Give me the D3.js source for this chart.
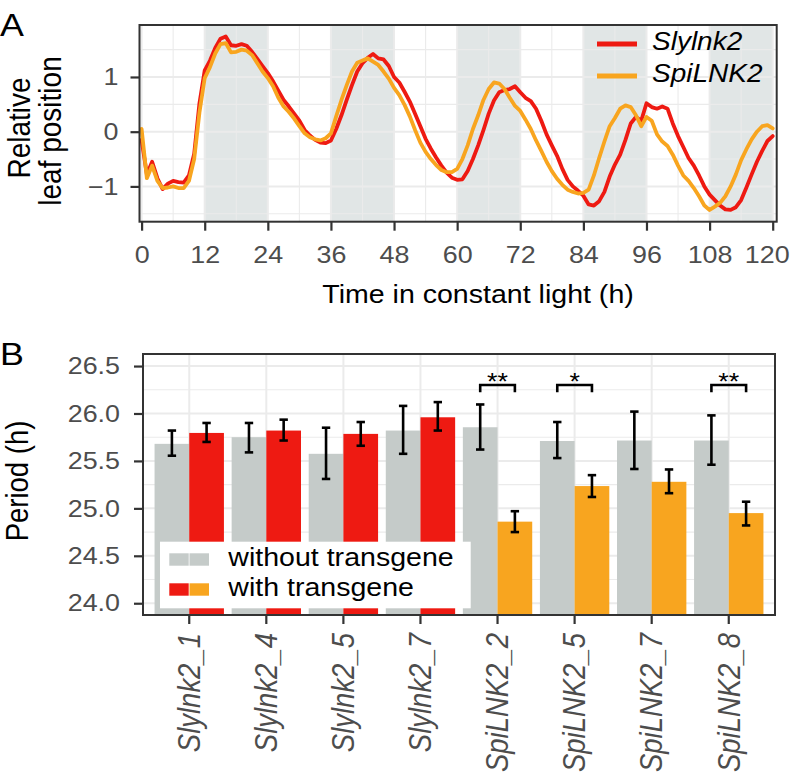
<!DOCTYPE html>
<html><head><meta charset="utf-8">
<script src="https://cdn.jsdelivr.net/npm/d3@7"></script>
<style>body{margin:0;background:#fff}</style>
</head><body>
<svg id="chart" width="793" height="777"></svg>
<script>
// ---------------- DATA ----------------
// Panel A: relative leaf position, hourly readings 0..120 h
const timeH = d3.range(0, 121, 1);
const slylnk2 = [
 -0.15,-0.78,-0.55,-0.85,-1.05,-0.95,-0.90,-0.92,-0.93,-0.80,
 -0.40, 0.52, 1.12, 1.30, 1.53, 1.70, 1.74, 1.58, 1.57, 1.60,
  1.57, 1.46, 1.33, 1.20, 1.07, 0.92, 0.75, 0.58, 0.46, 0.33,
  0.20, 0.03,-0.07,-0.15,-0.20,-0.21,-0.16, 0.05, 0.30, 0.58,
  0.85, 1.10, 1.25, 1.35, 1.42, 1.34, 1.32, 1.20, 1.00, 0.90,
  0.73, 0.55, 0.33, 0.10,-0.13,-0.31,-0.47,-0.62,-0.75,-0.84,
 -0.88,-0.87,-0.72,-0.50,-0.25, 0.03, 0.33, 0.57, 0.72, 0.76,
  0.78, 0.83, 0.72, 0.62, 0.56, 0.42, 0.20,-0.05,-0.25,-0.44,
 -0.68,-0.88,-1.00,-1.08,-1.17,-1.33,-1.35,-1.27,-1.10,-0.82,
 -0.60,-0.42,-0.15, 0.15, 0.27, 0.20, 0.52, 0.45, 0.42, 0.46,
  0.42, 0.15,-0.08,-0.28,-0.48,-0.62,-0.80,-1.00,-1.15,-1.25,
 -1.35,-1.42,-1.43,-1.38,-1.25,-1.02,-0.78,-0.55,-0.35,-0.17,
 -0.08];
const spilnk2 = [
  0.05,-0.85,-0.62,-0.90,-1.03,-1.02,-1.00,-1.03,-1.03,-0.90,
 -0.50, 0.35, 0.98, 1.18, 1.43, 1.60, 1.62, 1.45, 1.46, 1.50,
  1.48, 1.40, 1.25, 1.10, 0.98, 0.83, 0.62, 0.46, 0.36, 0.24,
  0.10,-0.03,-0.10,-0.14,-0.16,-0.12,-0.03, 0.28, 0.58, 0.85,
  1.10, 1.26, 1.30, 1.34, 1.28, 1.22, 1.10, 0.97, 0.80, 0.67,
  0.49, 0.28, 0.03,-0.20,-0.37,-0.50,-0.61,-0.70,-0.74,-0.74,
 -0.68,-0.50,-0.25, 0.05, 0.30, 0.58, 0.78, 0.90, 0.88, 0.78,
  0.62, 0.47, 0.38, 0.22, 0.05,-0.16,-0.35,-0.55,-0.72,-0.86,
 -0.97,-1.06,-1.10,-1.13,-1.12,-1.06,-0.80,-0.48,-0.18, 0.10,
  0.25, 0.42, 0.48, 0.45, 0.30, 0.10, 0.27, 0.20,-0.05,-0.18,
 -0.26,-0.42,-0.62,-0.80,-0.90,-1.03,-1.18,-1.35,-1.43,-1.37,
 -1.30,-1.18,-1.00,-0.78,-0.52,-0.32,-0.14, 0.00, 0.10, 0.12,
  0.06];
const lineSeries = ["Slylnk2", "SpiLNK2"];
const darkStart = [12, 36, 60, 84, 108];
const darkLength = 12;
const xTicksA = [0, 12, 24, 36, 48, 60, 72, 84, 96, 108, 120];
const yTicksA = [-1, 0, 1];

// Panel B: period (h)
const categories = ["Slylnk2_1","Slylnk2_4","Slylnk2_5","Slylnk2_7","SpiLNK2_2","SpiLNK2_5","SpiLNK2_7","SpiLNK2_8"];
const withoutMean = [25.68, 25.75, 25.575, 25.82, 25.855, 25.71, 25.715, 25.715];
const withoutLo   = [25.555, 25.59, 25.31, 25.575, 25.62, 25.53, 25.415, 25.46];
const withoutHi   = [25.82, 25.90, 25.85, 26.08, 26.095, 25.91, 26.02, 25.98];
const withMean    = [25.795, 25.82, 25.785, 25.96, 24.86, 25.235, 25.28, 24.95];
const withLo      = [25.70, 25.715, 25.66, 25.82, 24.75, 25.12, 25.16, 24.82];
const withHi      = [25.90, 25.935, 25.91, 26.12, 24.97, 25.35, 25.41, 25.07];
const sigCats   = ["SpiLNK2_2", "SpiLNK2_5", "SpiLNK2_8"];
const sigLabels = ["**", "*", "**"];
const sigLevel = 26.30, sigTip = 26.225;
const yTicksB = [24.0, 24.5, 25.0, 25.5, 26.0, 26.5];
const legendB = ["without transgene", "with transgene"];

// ---------------- STYLE ----------------
const FONT = "'Liberation Sans', Arial, Helvetica, sans-serif";
const S = 1.12; // horizontal glyph stretch of the reference
const RED = "#ee1a12", ORANGE = "#f8a51f", GRAYBAR = "#c5cbc9", SHADE = "#e1e6e6";
const TICKCOL = "#4d4d4d", AXCOL = "#333333", GRID = "#ebebeb";

const svg = d3.select("#chart");
const defs = svg.append("defs");

function addText(parent, x, y, str, o = {}) {
  const t = parent.append("text")
    .attr("transform", o.rotate ? `translate(${x},${y}) rotate(-90) scale(1,${S})`
                                : `translate(${x},${y}) scale(${S},1)`)
    .attr("text-anchor", o.anchor || "start")
    .attr("font-family", FONT).attr("font-size", o.size || 24)
    .attr("fill", o.fill || "#000").text(str);
  if (o.italic) t.attr("font-style", "italic");
  if (o.dy) t.attr("dy", o.dy);
  return t;
}
function styleAxis(g, size) {
  g.attr("font-family", FONT).attr("font-size", size);
  g.select(".domain").remove();
  g.selectAll(".tick line").attr("stroke", AXCOL).attr("stroke-width", 2.2);
  g.selectAll(".tick text").attr("fill", TICKCOL).each(function () {
    const t = d3.select(this);
    const x = +t.attr("x") || 0;
    t.attr("x", 0).attr("transform", `translate(${x},0) scale(${S},1)`);
  });
}

// ---------------- PANEL A ----------------
const PA = {l: 139.5, r: 776.7, t: 25, b: 221.7};
const xA = d3.scaleLinear().domain([-0.4, 120.76]).range([PA.l, PA.r]);
const yA = d3.scaleLinear().domain([-1.645, 1.95]).range([PA.b, PA.t]);
defs.append("clipPath").attr("id", "clipA").append("rect")
  .attr("x", PA.l).attr("y", PA.t).attr("width", PA.r - PA.l).attr("height", PA.b - PA.t);

const gA = svg.append("g");
gA.append("rect").attr("x", PA.l).attr("y", PA.t).attr("width", PA.r - PA.l)
  .attr("height", PA.b - PA.t).attr("fill", "#fff");
const plotA = gA.append("g").attr("clip-path", "url(#clipA)");
plotA.selectAll("rect.shade").data(darkStart).join("rect").attr("class", "shade")
  .attr("x", d => xA(d)).attr("width", d => xA(d + darkLength) - xA(d))
  .attr("y", PA.t).attr("height", PA.b - PA.t).attr("fill", SHADE);

const xMinorA = xTicksA.slice(0, -1).map(d => d + 6);
const yMinorA = [-1.5, -0.5, 0.5, 1.5];
plotA.selectAll("line.gxm").data(xMinorA).join("line")
  .attr("x1", d => xA(d)).attr("x2", d => xA(d)).attr("y1", PA.t).attr("y2", PA.b)
  .attr("stroke", GRID).attr("stroke-width", 1.1);
plotA.selectAll("line.gym").data(yMinorA).join("line")
  .attr("y1", d => yA(d)).attr("y2", d => yA(d)).attr("x1", PA.l).attr("x2", PA.r)
  .attr("stroke", GRID).attr("stroke-width", 1.1);
plotA.selectAll("line.gx").data(xTicksA).join("line")
  .attr("x1", d => xA(d)).attr("x2", d => xA(d)).attr("y1", PA.t).attr("y2", PA.b)
  .attr("stroke", GRID).attr("stroke-width", 2);
plotA.selectAll("line.gy").data(yTicksA).join("line")
  .attr("y1", d => yA(d)).attr("y2", d => yA(d)).attr("x1", PA.l).attr("x2", PA.r)
  .attr("stroke", GRID).attr("stroke-width", 2);

const lineGen = d3.line().x((d, i) => xA(timeH[i])).y(d => yA(d));
[[slylnk2, RED], [spilnk2, ORANGE]].forEach(([vals, col]) => {
  plotA.append("path").attr("d", lineGen(vals)).attr("fill", "none")
    .attr("stroke", col).attr("stroke-width", 3.8)
    .attr("stroke-linejoin", "round").attr("stroke-linecap", "round");
});

// legend A
[[lineSeries[0], RED, 44], [lineSeries[1], ORANGE, 76]].forEach(([name, col, y]) => {
  gA.append("line").attr("x1", 597).attr("x2", 637).attr("y1", y).attr("y2", y)
    .attr("stroke", col).attr("stroke-width", 5);
  addText(gA, 652, y + 6, name, {size: 25, italic: true});
});

gA.append("rect").attr("x", PA.l).attr("y", PA.t).attr("width", PA.r - PA.l)
  .attr("height", PA.b - PA.t).attr("fill", "none").attr("stroke", AXCOL).attr("stroke-width", 2);

const gxA = svg.append("g").attr("transform", `translate(0,${PA.b})`)
  .call(d3.axisBottom(xA).tickValues(xTicksA).tickSize(9).tickPadding(15).tickFormat(d3.format("d")));
styleAxis(gxA, 24);
// the last label sits slightly left of its tick in the reference (kept inside the figure)
gxA.selectAll(".tick text").filter(d => d === 120)
  .attr("transform", `translate(-6,0) scale(${S},1)`);
const gyA = svg.append("g").attr("transform", `translate(${PA.l},0)`)
  .call(d3.axisLeft(yA).tickValues(yTicksA).tickSize(9).tickPadding(12).tickFormat(d3.format("d")));
styleAxis(gyA, 24);

addText(svg, 478, 303, "Time in constant light (h)", {size: 25.5, anchor: "middle"});
addText(svg, 30, 128, "Relative", {size: 28, anchor: "middle", rotate: true});
addText(svg, 61, 131, "leaf position", {size: 28, anchor: "middle", rotate: true});
addText(svg, 0, 36, "A", {size: 32});

// ---------------- PANEL B ----------------
const PB = {l: 143, r: 775, t: 354, b: 615};
const xB = d3.scalePoint().domain(categories).range([PB.l, PB.r]).padding(0.6);
const yB = d3.scaleLinear().domain([23.876, 26.627]).range([PB.b, PB.t]);
const bw = xB.step() * 0.45;
defs.append("clipPath").attr("id", "clipB").append("rect")
  .attr("x", PB.l).attr("y", PB.t).attr("width", PB.r - PB.l).attr("height", PB.b - PB.t);

const gB = svg.append("g");
gB.append("rect").attr("x", PB.l).attr("y", PB.t).attr("width", PB.r - PB.l)
  .attr("height", PB.b - PB.t).attr("fill", "#fff");
const plotB = gB.append("g").attr("clip-path", "url(#clipB)");
const yMinorB = [23.75, 24.25, 24.75, 25.25, 25.75, 26.25];
plotB.selectAll("line.gym").data(yMinorB).join("line")
  .attr("y1", d => yB(d)).attr("y2", d => yB(d)).attr("x1", PB.l).attr("x2", PB.r)
  .attr("stroke", GRID).attr("stroke-width", 1.1);
plotB.selectAll("line.gy").data(yTicksB).join("line")
  .attr("y1", d => yB(d)).attr("y2", d => yB(d)).attr("x1", PB.l).attr("x2", PB.r)
  .attr("stroke", GRID).attr("stroke-width", 2);
plotB.selectAll("line.gx").data(categories).join("line")
  .attr("x1", d => xB(d)).attr("x2", d => xB(d)).attr("y1", PB.t).attr("y2", PB.b)
  .attr("stroke", GRID).attr("stroke-width", 2);

const withColor = c => c.startsWith("Slylnk2") ? RED : ORANGE;
plotB.selectAll("rect.wo").data(categories).join("rect")
  .attr("x", d => xB(d) - bw).attr("width", bw)
  .attr("y", (d, i) => yB(withoutMean[i])).attr("height", (d, i) => PB.b - yB(withoutMean[i]))
  .attr("fill", GRAYBAR);
plotB.selectAll("rect.wi").data(categories).join("rect")
  .attr("x", d => xB(d)).attr("width", bw)
  .attr("y", (d, i) => yB(withMean[i])).attr("height", (d, i) => PB.b - yB(withMean[i]))
  .attr("fill", d => withColor(d));

function errBar(cx, lo, hi) {
  const g = plotB.append("g").attr("stroke", "#000").attr("stroke-width", 2.6);
  g.append("line").attr("x1", cx).attr("x2", cx).attr("y1", yB(lo)).attr("y2", yB(hi));
  g.append("line").attr("x1", cx - 4.2).attr("x2", cx + 4.2).attr("y1", yB(lo)).attr("y2", yB(lo));
  g.append("line").attr("x1", cx - 4.2).attr("x2", cx + 4.2).attr("y1", yB(hi)).attr("y2", yB(hi));
}
categories.forEach((c, i) => {
  errBar(xB(c) - bw / 2, withoutLo[i], withoutHi[i]);
  errBar(xB(c) + bw / 2, withLo[i], withHi[i]);
});

sigCats.forEach((c, i) => {
  const x1 = xB(c) - bw / 2, x2 = xB(c) + bw / 2;
  plotB.append("path")
    .attr("d", `M${x1},${yB(sigTip)}V${yB(sigLevel)}H${x2}V${yB(sigTip)}`)
    .attr("fill", "none").attr("stroke", "#000").attr("stroke-width", 2.6);
  addText(plotB, xB(c), yB(sigLevel) + 5, sigLabels[i], {size: 24, anchor: "middle"});
});

// legend B
const lg = gB.append("g");
lg.append("rect").attr("x", 160).attr("y", 541.7).attr("width", 310.7).attr("height", 66.6).attr("fill", "#fff");
const keyColors = [[GRAYBAR, GRAYBAR], [RED, ORANGE]];
[553.3, 583.3].forEach((y, r) => {
  lg.append("rect").attr("x", 169.3).attr("y", y).attr("width", 19.4).attr("height", 12.4).attr("fill", keyColors[r][0]);
  lg.append("rect").attr("x", 189.5).attr("y", y).attr("width", 19.5).attr("height", 12.4).attr("fill", keyColors[r][1]);
  addText(lg, 228.3, y + 12.4, legendB[r], {size: 25.5});
});

gB.append("rect").attr("x", PB.l).attr("y", PB.t).attr("width", PB.r - PB.l)
  .attr("height", PB.b - PB.t).attr("fill", "none").attr("stroke", AXCOL).attr("stroke-width", 2);

const gyB = svg.append("g").attr("transform", `translate(${PB.l},0)`)
  .call(d3.axisLeft(yB).tickValues(yTicksB).tickSize(9).tickPadding(14).tickFormat(d3.format(".1f")));
styleAxis(gyB, 24);

const gxB = svg.append("g").attr("transform", `translate(0,${PB.b})`);
gxB.selectAll("line").data(categories).join("line")
  .attr("x1", d => xB(d)).attr("x2", d => xB(d)).attr("y1", 0).attr("y2", 9)
  .attr("stroke", AXCOL).attr("stroke-width", 2.2);
categories.forEach(c => {
  addText(gxB, xB(c), 18, c, {size: 27.5, anchor: "end", rotate: true, italic: true, fill: TICKCOL, dy: "0.35em"});
});

addText(svg, 28, 481, "Period (h)", {size: 27.5, anchor: "middle", rotate: true});
addText(svg, 0, 365, "B", {size: 32});
</script>
</body></html>
